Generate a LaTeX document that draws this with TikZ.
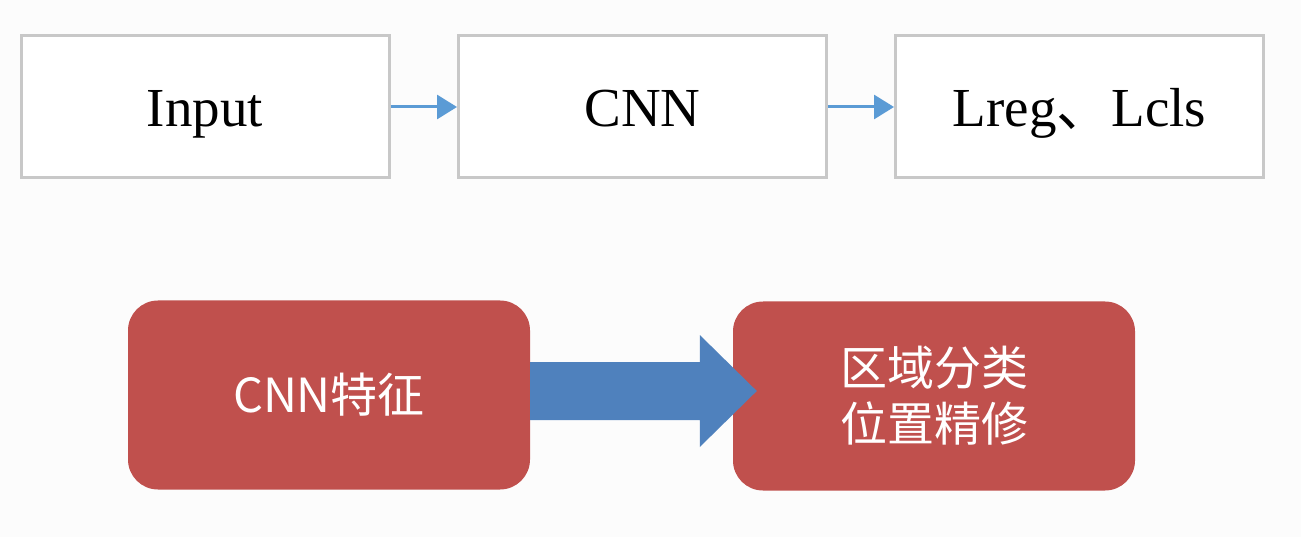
\documentclass[tikz,border=0pt]{standalone}
\usepackage{fontspec}
\setmainfont{Liberation Serif}
\newfontfamily\cjk{Noto Sans CJK SC}
\usetikzlibrary{arrows.meta,calc}
\definecolor{boxgray}{RGB}{200,200,200}
\definecolor{arrblue}{RGB}{91,155,213}
\definecolor{redbox}{RGB}{192,80,77}
\definecolor{bigblue}{RGB}{79,129,189}
\definecolor{bgcol}{RGB}{252,252,252}
\begin{document}
\begin{tikzpicture}[x=1pt,y=-1pt,
  topbox/.style={draw=boxgray,line width=3pt,fill=white,minimum width=368pt,minimum height=142pt,inner sep=0pt,
    text height=40pt,text depth=0pt,font=\fontsize{55}{60}\selectfont},
  redblock/.style={fill=redbox,rounded corners=30pt,minimum width=402pt,minimum height=189pt,inner sep=0pt,
    text=white,font=\cjk\fontsize{47}{56}\selectfont,align=center},
  thinarrow/.style={draw=arrblue,line width=3pt,-{Triangle[length=20pt,width=24pt]}, shorten >=0pt}]
\fill[bgcol] (0,0) rectangle (1301,537);
\useasboundingbox (0,0) rectangle (1301,537);
\node[topbox] (inp) at (205,107) {Input};
\node[topbox] (cnn) at (642.5,107) {CNN};
\node[topbox] (loss) at (1079.5,107) {Lreg{\cjk 、}Lcls};
\draw[thinarrow] (inp.east) -- (cnn.west);
\draw[thinarrow] (cnn.east) -- (loss.west);
\node[redblock] (feat) at (329,395) {CNN特征};
\node[redblock] (cls) at (934,396) {区域分类\\位置精修};
\fill[bigblue]
  ($(feat.east)+(0,-33)$) -- ($(cls.west)+(-33,-34)$) -- ($(cls.west)+(-33,-61)$)
  -- ($(cls.west)+(24,-5)$) -- ($(cls.west)+(-33,51)$) -- ($(cls.west)+(-33,24)$)
  -- ($(feat.east)+(0,25)$) -- cycle;
\end{tikzpicture}
\end{document}
